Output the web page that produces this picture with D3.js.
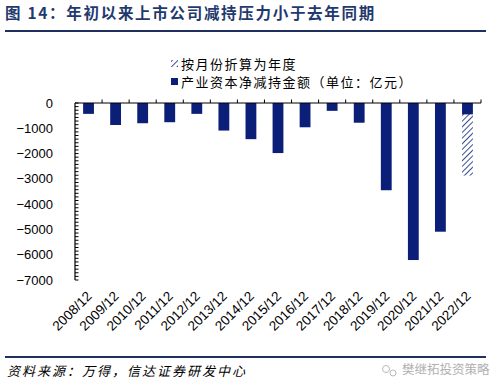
<!DOCTYPE html>
<html><head><meta charset="utf-8">
<script src="https://cdn.jsdelivr.net/npm/d3@7"></script>
<style>body{margin:0;background:#fff}svg{display:block}</style>
</head><body>
<svg id="c" width="499" height="390"></svg>
<script>
const categories = ["2008/12","2009/12","2010/12","2011/12","2012/12","2013/12","2014/12","2015/12","2016/12","2017/12","2018/12","2019/12","2020/12","2021/12","2022/12"];
const netReduction = [-430,-870,-800,-760,-430,-1090,-1430,-1980,-960,-310,-780,-3450,-6210,-5090,-450];
const annualized = [null,null,null,null,null,null,null,null,null,null,null,null,null,null,-2870];
const yTicks = [0,-1000,-2000,-3000,-4000,-5000,-6000,-7000];
const title = "图 14：年初以来上市公司减持压力小于去年同期";
const legendLabels = ["按月份折算为年度","产业资本净减持金额（单位：亿元）"];
const source = "资料来源：万得，信达证券研发中心";
const watermark = "樊继拓投资策略";

const navy = "#0b1f78";
const svg = d3.select("#c");
const cjk = "'Noto Sans CJK SC','Noto Sans',sans-serif";
const latin = "'Liberation Sans',Arial,sans-serif";

const defs = svg.append("defs");
const pat = defs.append("pattern").attr("id","hatch").attr("patternUnits","userSpaceOnUse")
  .attr("width",4).attr("height",4).attr("patternTransform","rotate(45)");
pat.append("rect").attr("width",4).attr("height",4).attr("fill","#fff");
pat.append("line").attr("x1",0).attr("y1",0).attr("x2",0).attr("y2",4).attr("stroke",navy).attr("stroke-width",1.6);

// title
svg.append("text").attr("x",5).attr("y",19).attr("font-family",cjk).attr("font-weight","bold")
  .attr("font-size",15.5).attr("letter-spacing",1.7).attr("fill","#1f3a6e").text(title);
svg.append("line").attr("x1",5).attr("x2",486).attr("y1",31).attr("y2",31).attr("stroke","#1f2f5e").attr("stroke-width",2);

const x = d3.scaleBand().domain(categories).range([75,481]).paddingInner(0.6).paddingOuter(0.3);
const xb = d3.scaleBand().domain(categories).range([75,481]);
const y = d3.scaleLinear().domain([-7000,0]).range([280,103]);

// bars
svg.append("g").selectAll("rect.h").data(categories.filter((c,i)=>annualized[i]!=null)).join("rect")
  .attr("x",c=>x(c)).attr("width",x.bandwidth())
  .attr("y",y(0)).attr("height",c=>y(annualized[categories.indexOf(c)])-y(0))
  .attr("fill","url(#hatch)");
svg.append("g").selectAll("rect.s").data(categories).join("rect")
  .attr("x",c=>x(c)).attr("width",x.bandwidth())
  .attr("y",y(0)).attr("height",(c,i)=>y(netReduction[i])-y(0))
  .attr("fill",navy);

// y axis
const minor = d3.range(0,-7000-1,-1000/7);
const ya = svg.append("g").attr("transform","translate(75,0)");
ya.append("line").attr("x1",0).attr("x2",0).attr("y1",y(0)).attr("y2",y(-7000)).attr("stroke","#000").attr("stroke-width",1.2);
ya.selectAll("line.m").data(minor).join("line").attr("x1",0).attr("x2",3.5)
  .attr("y1",d=>y(d)).attr("y2",d=>y(d)).attr("stroke","#000");
ya.selectAll("text").data(yTicks).join("text").attr("x",-22).attr("y",d=>y(d)).attr("dy","0.35em")
  .attr("text-anchor","end").attr("font-family",latin).attr("font-size",13).attr("fill","#000")
  .text(d=>d3.format(",")(d).replace(",",""));

// x axis at zero
const xa = svg.append("g");
xa.append("line").attr("x1",75).attr("x2",481).attr("y1",y(0)).attr("y2",y(0)).attr("stroke","#000").attr("stroke-width",1.2);
xa.selectAll("line.t").data(categories).join("line")
  .attr("x1",c=>xb(c)+xb.bandwidth()).attr("x2",c=>xb(c)+xb.bandwidth())
  .attr("y1",y(0)).attr("y2",y(0)-3.5).attr("stroke","#000");
xa.selectAll("text").data(categories).join("text")
  .attr("transform",c=>`translate(${xb(c)+xb.bandwidth()/2+4},297) rotate(-45)`)
  .attr("text-anchor","end").attr("font-family",latin).attr("font-size",13.5).attr("fill","#000").text(c=>c);

// legend
const lg = svg.append("g");
lg.append("rect").attr("x",171).attr("y",60).attr("width",7).attr("height",7).attr("fill","url(#hatch)");
lg.append("rect").attr("x",171).attr("y",78).attr("width",7).attr("height",7).attr("fill",navy);
lg.selectAll("text").data(legendLabels).join("text").attr("x",181).attr("y",(d,i)=>64+i*18).attr("dy","0.36em")
  .attr("font-family",cjk).attr("font-size",13).attr("letter-spacing",1.5).attr("fill","#000").text(d=>d);

// footer
svg.append("line").attr("x1",5).attr("x2",486).attr("y1",357).attr("y2",357).attr("stroke","#1f2f5e").attr("stroke-width",2);
svg.append("text").attr("x",7).attr("y",376).attr("font-family",cjk).attr("font-style","italic")
  .attr("font-size",13).attr("letter-spacing",2).attr("fill","#000").text(source);
svg.append("text").attr("x",402).attr("y",374).attr("font-family",cjk)
  .attr("font-size",12.5).attr("fill","#b0b0b0").text(watermark);
const ic = svg.append("g").attr("stroke","#bbb").attr("fill","none");
ic.append("circle").attr("cx",386).attr("cy",369).attr("r",3.5);
ic.append("circle").attr("cx",393).attr("cy",373).attr("r",3);
</script>
</body></html>
